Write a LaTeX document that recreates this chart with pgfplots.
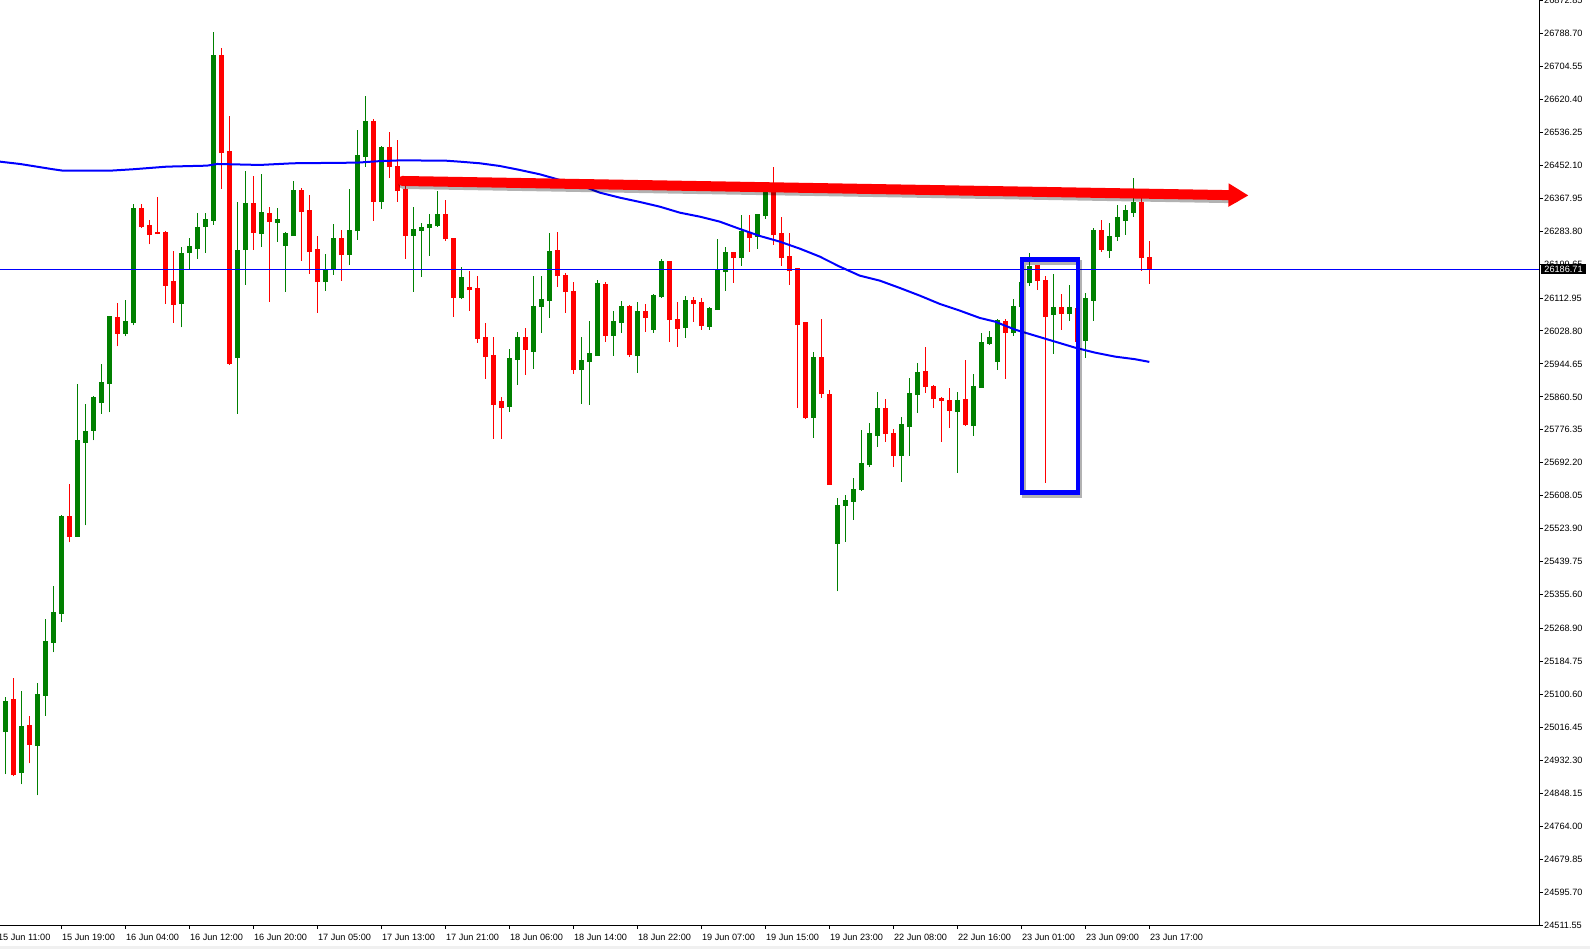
\documentclass[border=0pt]{standalone}
\usepackage{fontspec}
\setmainfont{Liberation Sans}
\usepackage{pgfplots}
\pgfplotsset{compat=1.18}
\usepackage{pgfplotstable}
\usetikzlibrary{arrows.meta}
\definecolor{mtgreen}{RGB}{0,128,0}
\definecolor{mtred}{RGB}{255,0,0}
\definecolor{mtblue}{RGB}{0,0,255}

\pgfplotstableread{
i o h l c
0 25006.0 25093.9 24896.9 25083.7
1 25086.7 25143.3 24890.9 24894.9
2 24899.9 25110.0 24870.7 25018.1
3 25020.1 25045.3 24924.2 24972.6
4 24970.6 25130.2 24842.4 25099.9
5 25097.9 25293.7 25046.4 25235.2
6 25233.2 25377.6 25207.9 25310.9
7 25306.9 25559.3 25286.7 25554.2
8 25554.2 25638.0 25488.6 25503.8
9 25503.8 25893.5 25503.8 25750.1
10 25744.1 25842.0 25532.0 25771.3
11 25774.4 25862.2 25749.1 25858.2
12 25846.0 25945.0 25817.8 25896.5
13 25894.5 26068.2 25820.8 26065.1
14 26062.1 26100.5 25989.4 26022.7
15 26022.7 26108.6 26014.7 26052.0
16 26050.0 26352.9 26042.9 26340.8
17 26342.8 26352.9 26292.3 26295.4
18 26297.4 26312.5 26249.9 26275.2
19 26280.2 26371.1 26275.2 26277.2
20 26281.2 26284.3 26098.5 26144.9
21 26154.0 26232.8 26050.0 26096.5
22 26098.5 26243.9 26037.9 26227.7
23 26228.7 26266.1 26186.3 26243.9
24 26238.8 26330.7 26213.6 26294.4
25 26295.3 26331.1 26228.9 26312.3
26 26310.6 26792.4 26300.4 26733.6
27 26733.6 26751.5 26392.3 26484.3
28 26488.5 26577.9 25943.0 25945.5
29 25960.8 26358.3 25817.8 26233.2
30 26236.6 26437.5 26147.2 26355.7
31 26353.2 26424.7 26236.6 26280.8
32 26277.4 26429.8 26244.3 26330.2
33 26327.7 26345.5 26103.8 26308.1
34 26305.5 26343.0 26257.0 26312.3
35 26246.8 26281.7 26129.4 26276.6
36 26272.3 26411.9 26272.3 26388.9
37 26386.4 26394.0 26208.5 26333.6
38 26335.3 26376.2 26175.3 26231.5
39 26235.7 26271.5 26075.7 26154.9
40 26154.9 26225.5 26131.9 26185.5
41 26185.5 26302.1 26172.8 26263.8
42 26263.8 26286.8 26157.4 26223.8
43 26223.8 26391.5 26198.3 26284.3
44 26284.3 26542.1 26262.1 26475.8
45 26474.0 26628.9 26448.5 26562.6
46 26562.6 26570.2 26310.6 26359.2
47 26359.2 26501.3 26341.3 26498.7
48 26498.7 26537.0 26420.4 26448.5
49 26450.2 26516.6 26359.1 26387.3
50 26389.0 26401.7 26213.6 26272.4
51 26272.4 26345.6 26129.4 26286.8
52 26285.1 26304.7 26167.7 26291.9
53 26292.8 26327.7 26221.3 26299.6
54 26297.0 26386.4 26295.3 26325.1
55 26325.1 26363.4 26259.6 26263.9
56 26263.9 26265.0 26065.5 26114.1
57 26114.1 26191.5 26111.5 26164.3
58 26139.6 26182.2 26080.9 26134.5
59 26136.2 26169.4 25999.2 26009.4
60 26011.1 26049.4 25907.2 25963.4
61 25965.1 26013.6 25754.0 25840.9
62 25847.7 25860.4 25754.0 25833.2
63 25835.8 25983.0 25823.0 25957.5
64 25955.8 26026.4 25891.9 26011.1
65 26011.1 26036.6 25917.5 25981.3
66 25976.2 26169.4 25932.8 26090.2
67 26091.1 26169.4 26024.7 26108.1
68 26106.4 26279.2 26063.0 26230.7
69 26233.2 26282.6 26142.2 26170.2
70 26169.4 26177.0 26075.8 26129.4
71 26128.5 26154.1 25920.0 25930.2
72 25930.2 26013.6 25843.4 25952.4
73 25950.6 26054.5 25840.9 25970.2
74 25966.0 26159.2 25966.0 26149.0
75 26146.4 26154.1 26001.7 26017.0
76 26017.0 26080.0 25966.0 26051.9
77 26050.2 26105.6 26024.7 26090.2
78 26090.2 26095.3 25963.4 25967.7
79 25966.0 26103.0 25922.6 26077.5
80 26077.5 26097.9 26027.3 26063.0
81 26032.4 26123.4 26024.7 26118.3
82 26115.8 26212.8 26113.2 26205.1
83 26205.1 26207.0 26001.7 26057.9
84 26057.0 26103.0 25988.9 26034.9
85 26037.5 26118.3 26011.9 26105.5
86 26105.5 26115.8 26051.9 26098.7
87 26100.4 26113.2 26032.4 26042.6
88 26040.0 26090.2 26032.4 26085.1
89 26083.4 26263.9 26083.4 26182.1
90 26180.4 26243.4 26131.9 26228.1
91 26228.1 26228.1 26152.4 26216.2
92 26216.2 26325.1 26195.8 26281.7
93 26279.2 26325.1 26231.5 26267.3
94 26269.8 26325.1 26239.2 26325.1
95 26323.4 26389.0 26315.8 26383.9
96 26383.9 26447.7 26249.4 26274.1
97 26276.6 26320.0 26195.8 26216.2
98 26217.9 26279.2 26147.2 26182.0
99 26187.3 26189.8 25833.2 26045.1
100 26049.4 26051.9 25805.1 25806.8
101 25807.7 25975.3 25756.6 25960.0
102 25960.0 26059.6 25858.7 25868.9
103 25865.5 25878.3 25636.6 25636.6
104 25485.9 25602.6 25363.4 25582.1
105 25582.9 25610.2 25491.0 25594.9
106 25593.2 25653.6 25547.2 25623.0
107 25623.8 25776.2 25621.3 25689.4
108 25687.7 25794.0 25682.6 25765.9
109 25761.7 25873.2 25733.6 25829.8
110 25829.8 25855.3 25746.4 25766.8
111 25765.9 25778.7 25682.6 25710.6
112 25710.6 25809.4 25644.2 25788.9
113 25784.7 25908.9 25710.6 25868.1
114 25866.4 25947.2 25820.4 25921.7
115 25924.3 25988.1 25871.5 25886.8
116 25886.0 25891.1 25833.2 25856.2
117 25856.2 25860.4 25746.4 25851.1
118 25850.2 25883.4 25782.1 25825.5
119 25823.0 25873.2 25667.2 25850.2
120 25852.8 25954.9 25786.4 25788.9
121 25787.2 25919.2 25761.7 25886.0
122 25884.3 26023.9 25884.3 25998.3
123 25996.6 26029.0 25994.1 26011.1
124 25950.7 26059.6 25930.3 26054.5
125 26052.0 26059.6 25907.3 26024.7
126 26024.7 26110.7 26017.0 26090.3
127 26090.3 26165.0 26070.0 26152.4
128 26152.4 26228.1 26144.7 26192.4
129 26195.0 26195.0 26134.5 26157.5
130 26156.7 26169.4 25641.7 26065.6
131 26070.7 26174.5 25971.1 26087.7
132 26087.7 26123.5 26032.4 26073.2
133 26073.2 26146.4 26055.4 26087.7
134 26085.2 26099.6 25999.2 26001.8
135 26004.3 26126.0 25960.9 26110.7
136 26106.4 26292.0 26055.4 26284.3
137 26284.3 26312.4 26231.5 26236.7
138 26234.1 26304.7 26216.2 26269.0
139 26269.9 26350.7 26259.6 26317.5
140 26310.7 26350.7 26275.0 26335.4
141 26331.1 26419.6 26320.9 26355.8
142 26355.8 26378.8 26183.0 26216.2
143 26215.4 26258.8 26149.8 26186.71
}\candles

\pgfplotstableread{
i ma
-0.67 26461.2
1.83 26455.3
3.92 26448.5
5.96 26441.8
7.2 26438.2
13.1 26438.2
15.96 26441.8
20.2 26448.5
25.2 26451.0
26.5 26455.3
31.8 26452.8
36 26457.1
44 26458.7
46.5 26462.2
49.3 26464.5
55 26463.8
56.8 26461.2
59.3 26457.1
61.8 26450.2
64.3 26440.0
66.8 26429.0
69.3 26414.5
71.8 26401.7
74.3 26382.1
76.8 26369.3
79.3 26358.3
81.8 26346.3
84.3 26331.0
86.8 26320.8
89.3 26308.0
91.8 26289.4
94.3 26271.5
96.8 26257.0
99.3 26239.1
101.8 26218.7
104.3 26193.1
106.8 26170.1
109.3 26157.4
111.8 26138.7
114.3 26119.1
116.8 26097.9
119.3 26080.8
121.8 26062.1
123.7 26052.7
126.2 26032.3
128.7 26016.9
131.2 26001.6
133.7 25986.3
136.2 25973.5
138.7 25963.3
141.2 25956.7
143 25949.8
}\maline

\begin{document}
\begin{tikzpicture}
\path[use as bounding box] (0bp,0bp) rectangle (1590bp,-949bp);
\fill[gray!12] (0bp,-946bp) rectangle (1590bp,-949bp);
\begin{axis}[
  at={(0bp,0bp)}, anchor=north west,
  scale only axis, width=1539bp, height=925bp,
  xmin=-0.667, xmax=191.71, ymin=24511.55, ymax=26874.1,
  axis x line*=bottom, axis y line*=right,
  axis line style={black, line width=1bp},
  tick align=outside, major tick length=4bp,
  tick style={black, line width=1bp},
  tick label style={font=\fontsize{9.2}{10}\selectfont},
  ytick={26872.85,26788.70,26704.55,26620.40,26536.25,26452.10,26367.95,26283.80,26199.65,26112.95,26028.80,25944.65,25860.50,25776.35,25692.20,25608.05,25523.90,25439.75,25355.60,25268.90,25184.75,25100.60,25016.45,24932.30,24848.15,24764.00,24679.85,24595.70,24511.55},
  yticklabels={26872.85,26788.70,26704.55,26620.40,26536.25,26452.10,26367.95,26283.80,26199.65,26112.95,26028.80,25944.65,25860.50,25776.35,25692.20,25608.05,25523.90,25439.75,25355.60,25268.90,25184.75,25100.60,25016.45,24932.30,24848.15,24764.00,24679.85,24595.70,24511.55},
  xtick={7,15,...,143},
  xticklabels={15 Jun 19:00,16 Jun 04:00,16 Jun 12:00,16 Jun 20:00,17 Jun 05:00,17 Jun 13:00,17 Jun 21:00,18 Jun 06:00,18 Jun 14:00,18 Jun 22:00,19 Jun 07:00,19 Jun 15:00,19 Jun 23:00,22 Jun 08:00,22 Jun 16:00,23 Jun 01:00,23 Jun 09:00,23 Jun 17:00},
  yticklabel style={anchor=west, inner sep=0pt, xshift=1bp},
  xticklabel style={anchor=north west, inner sep=0pt, xshift=0.5bp, yshift=-5bp},
]
% wicks
\addplot[mtgreen, line width=1bp, no markers, forget plot, quiver={u=0, v=\thisrow{h}-\thisrow{l}}]
  table[x expr={\thisrow{c}>=\thisrow{o} ? \thisrow{i} : nan}, y=l] {\candles};
\addplot[mtred, line width=1bp, no markers, forget plot, quiver={u=0, v=\thisrow{h}-\thisrow{l}}]
  table[x expr={\thisrow{c}<\thisrow{o} ? \thisrow{i} : nan}, y=l] {\candles};
% bodies
\addplot[mtgreen, line width=5bp, no markers, forget plot, quiver={u=0, v=abs(\thisrow{c}-\thisrow{o})+2.4}]
  table[x expr={\thisrow{c}>=\thisrow{o} ? \thisrow{i} : nan}, y expr={min(\thisrow{o},\thisrow{c})-1.2}] {\candles};
\addplot[mtred, line width=5bp, no markers, forget plot, quiver={u=0, v=abs(\thisrow{c}-\thisrow{o})+2.4}]
  table[x expr={\thisrow{c}<\thisrow{o} ? \thisrow{i} : nan}, y expr={min(\thisrow{o},\thisrow{c})-1.2}] {\candles};
% moving average
\addplot[mtblue, line width=2bp, no markers] table[x=i, y=ma] {\maline};
% current price line
\addplot[mtblue, line width=1bp, no markers] coordinates {(-0.667,26186.71) (191.71,26186.71)};
% annotations: red arrow
\draw[black, opacity=0.3, line width=10bp, line cap=round]
  ([xshift=1bp,yshift=-3bp]axis cs:49.6,26411.9) -- ([xshift=1bp,yshift=-3bp]axis cs:153.5,26375.6);
\draw[mtred, line width=10bp, line cap=round, -{Triangle[length=20bp,width=22bp]}]
  (axis cs:49.6,26411.9) -- (axis cs:155.4,26374.9);
% blue box
\draw[black, opacity=0.3, line width=4.5bp]
  ([xshift=2bp,yshift=-3bp]axis cs:127.06,26211.0) rectangle ([xshift=2bp,yshift=-3bp]axis cs:134.08,25616.0);
\draw[mtblue, line width=4.5bp] (axis cs:127.06,26211.0) rectangle (axis cs:134.08,25616.0);
\coordinate (pl) at (axis cs:191.71,26186.71);
\coordinate (t0) at (axis cs:-1,24511.55);
\end{axis}
\node[anchor=west, fill=black, text=white, inner xsep=3.5bp, inner ysep=0pt, minimum height=10bp, text height=6.6bp, text depth=0pt, xshift=1.7bp, font=\fontsize{9.2}{10}\selectfont] at (pl) {26186.71};
\node[anchor=north west, inner sep=0pt, xshift=0.5bp, yshift=-9bp, font=\fontsize{9.2}{10}\selectfont] at (t0) {15 Jun 11:00};
\end{tikzpicture}
\end{document}
